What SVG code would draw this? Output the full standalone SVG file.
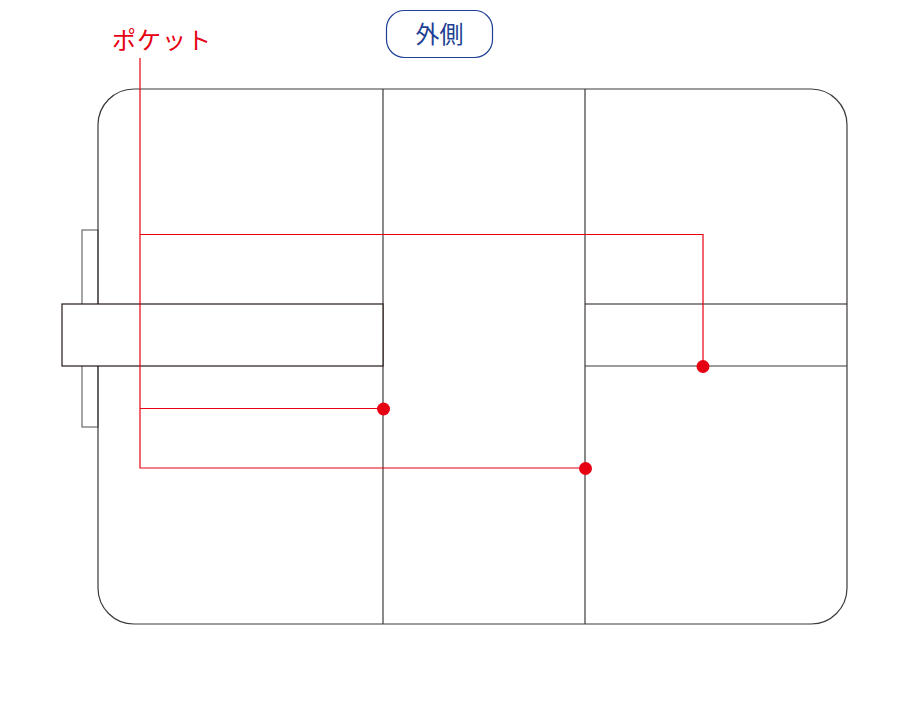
<svg xmlns="http://www.w3.org/2000/svg" width="920" height="720" viewBox="0 0 920 720">
<style>
.ln{fill:none;stroke:#3e3a39;stroke-width:1.2}
.dk{fill:#fff;stroke:#231815;stroke-width:1.2}
.gr{fill:#fff;stroke:#6a6a6a;stroke-width:1.2}
.rd{fill:none;stroke:#e60012;stroke-width:1.2}
.dot{fill:#e60012}
.lbl{font-family:"Liberation Serif","Noto Sans CJK JP",serif;font-size:24px}
</style>
<rect width="920" height="720" fill="#fff"/>
<g id="bag">
<rect class="gr" x="82" y="230" width="16" height="197"/>
<rect class="ln" x="98" y="89" width="749" height="535" rx="36" ry="36" fill="#fff"/>
<line class="ln" x1="383" y1="89" x2="383" y2="624"/>
<line class="ln" x1="585" y1="89" x2="585" y2="624"/>
</g>
<g id="strap-left">
<rect class="dk" x="62" y="304" width="321" height="62"/>
</g>
<g id="strap-right">
<line x1="585" y1="304" x2="847" y2="304" stroke="#231815" stroke-width="1.2"/>
<line x1="585" y1="366" x2="847" y2="366" stroke="#3e3a39" stroke-width="1.2"/>
</g>
<g id="title">
<rect x="386.5" y="10.5" width="106" height="47" rx="18" ry="18" fill="#fff" stroke="#1d3f94" stroke-width="1.2"/>
<text class="lbl" x="439.5" y="43" text-anchor="middle" fill="#1d3f94">外側</text>
</g>
<g id="pocket-label">
<text class="lbl" x="112" y="49" fill="#e60012" letter-spacing="1">ポケット</text>
</g>
<g id="connectors">
<polyline class="rd" points="140,58 140,468 585,468"/>
<polyline class="rd" points="140,234.5 703,234.5 703,366"/>
<line class="rd" x1="140" y1="408.5" x2="383" y2="408.5"/>
<circle class="dot" cx="383.5" cy="409" r="6.5"/>
<circle class="dot" cx="585.5" cy="468.5" r="6.5"/>
<circle class="dot" cx="703" cy="366.5" r="6.5"/>
</g>
</svg>
